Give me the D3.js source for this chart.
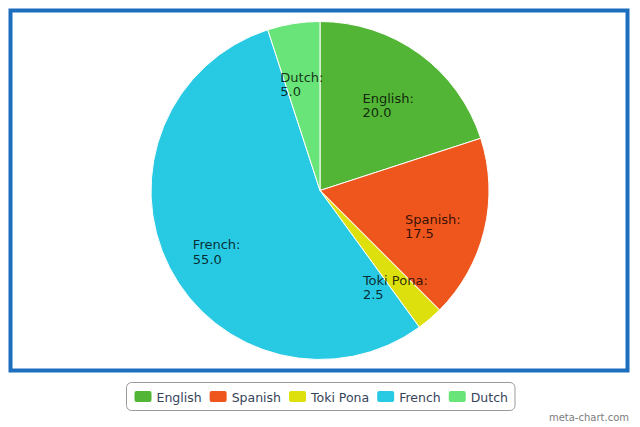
<!DOCTYPE html>
<html>
<head>
<meta charset="utf-8">
<script src="https://cdn.jsdelivr.net/npm/d3@7"></script>
<style>
  html, body { margin: 0; padding: 0; background: #fff; }
  svg { display: block; font-family: 'DejaVu Sans', Verdana, sans-serif; }
</style>
</head>
<body>
<svg id="chart" width="640" height="427"></svg>
<script>
// Chart data
const categories = ['English', 'Spanish', 'Toki Pona', 'French', 'Dutch'];
const values = [20.0, 17.5, 2.5, 55.0, 5.0];
const colors = ['#53b536', '#ef561d', '#dde00c', '#28c9e3', '#69e479'];

const cx = 320, cy = 190.5, radius = 169;

const svg = d3.select('#chart');

// Frame
svg.append('rect')
    .attr('x', 10.5).attr('y', 10.5)
    .attr('width', 617).attr('height', 360)
    .attr('fill', '#fff')
    .attr('stroke', '#1d6fbe')
    .attr('stroke-width', 4);

const color = d3.scaleOrdinal().domain(categories).range(colors);

const pie = d3.pie().sort(null).value(d => d.value);
const arcs = pie(categories.map((c, i) => ({ name: c, value: values[i] })));

const arc = d3.arc().innerRadius(0).outerRadius(radius);
const labelArc = d3.arc().innerRadius(116).outerRadius(116);

const g = svg.append('g').attr('transform', `translate(${cx},${cy})`);

// Slices
g.selectAll('path.slice')
    .data(arcs)
    .join('path')
    .attr('class', 'slice')
    .attr('d', arc)
    .attr('fill', d => color(d.data.name))
    .attr('stroke', '#fff')
    .attr('stroke-width', 1);

// Labels: two lines, left-aligned, first line centred on the centroid
g.selectAll('g.label')
    .data(arcs)
    .join('g')
    .attr('class', 'label')
    .each(function (d) {
        const [x, y] = labelArc.centroid(d);
        const lg = d3.select(this);
        const t1 = lg.append('text')
            .attr('y', y + 6)
            .attr('font-size', 13)
            .attr('fill', 'rgba(0,0,0,0.8)')
            .text(d.data.name + ':');
        const w = t1.node().getComputedTextLength();
        t1.attr('x', x - w / 2);
        lg.append('text')
            .attr('x', x - w / 2)
            .attr('y', y + 20.5)
            .attr('font-size', 13)
            .attr('fill', 'rgba(0,0,0,0.8)')
            .text(d3.format('.1f')(d.data.value));
    });

// Legend
const legend = svg.append('g');
const legendBox = legend.append('rect')
    .attr('y', 382.5).attr('height', 28)
    .attr('rx', 5)
    .attr('fill', '#fff')
    .attr('stroke', '#9a9a9a')
    .attr('stroke-width', 1);

const gap = 8;
let lx = 134.5;
categories.forEach(c => {
    legend.append('rect')
        .attr('x', lx).attr('y', 391)
        .attr('width', 17).attr('height', 11)
        .attr('rx', 2)
        .attr('fill', color(c));
    const t = legend.append('text')
        .attr('x', lx + 22).attr('y', 401.5)
        .attr('font-size', 12.5)
        .attr('fill', '#36445a')
        .text(c);
    lx += 22 + t.node().getComputedTextLength() + gap;
});
legendBox.attr('x', 126.5).attr('width', lx - gap + 7 - 126.5);

// Watermark
svg.append('text')
    .attr('x', 629).attr('y', 420.5)
    .attr('text-anchor', 'end')
    .attr('font-size', 10)
    .attr('fill', '#7d7d7d')
    .text('meta-chart.com');
</script>
</body>
</html>
